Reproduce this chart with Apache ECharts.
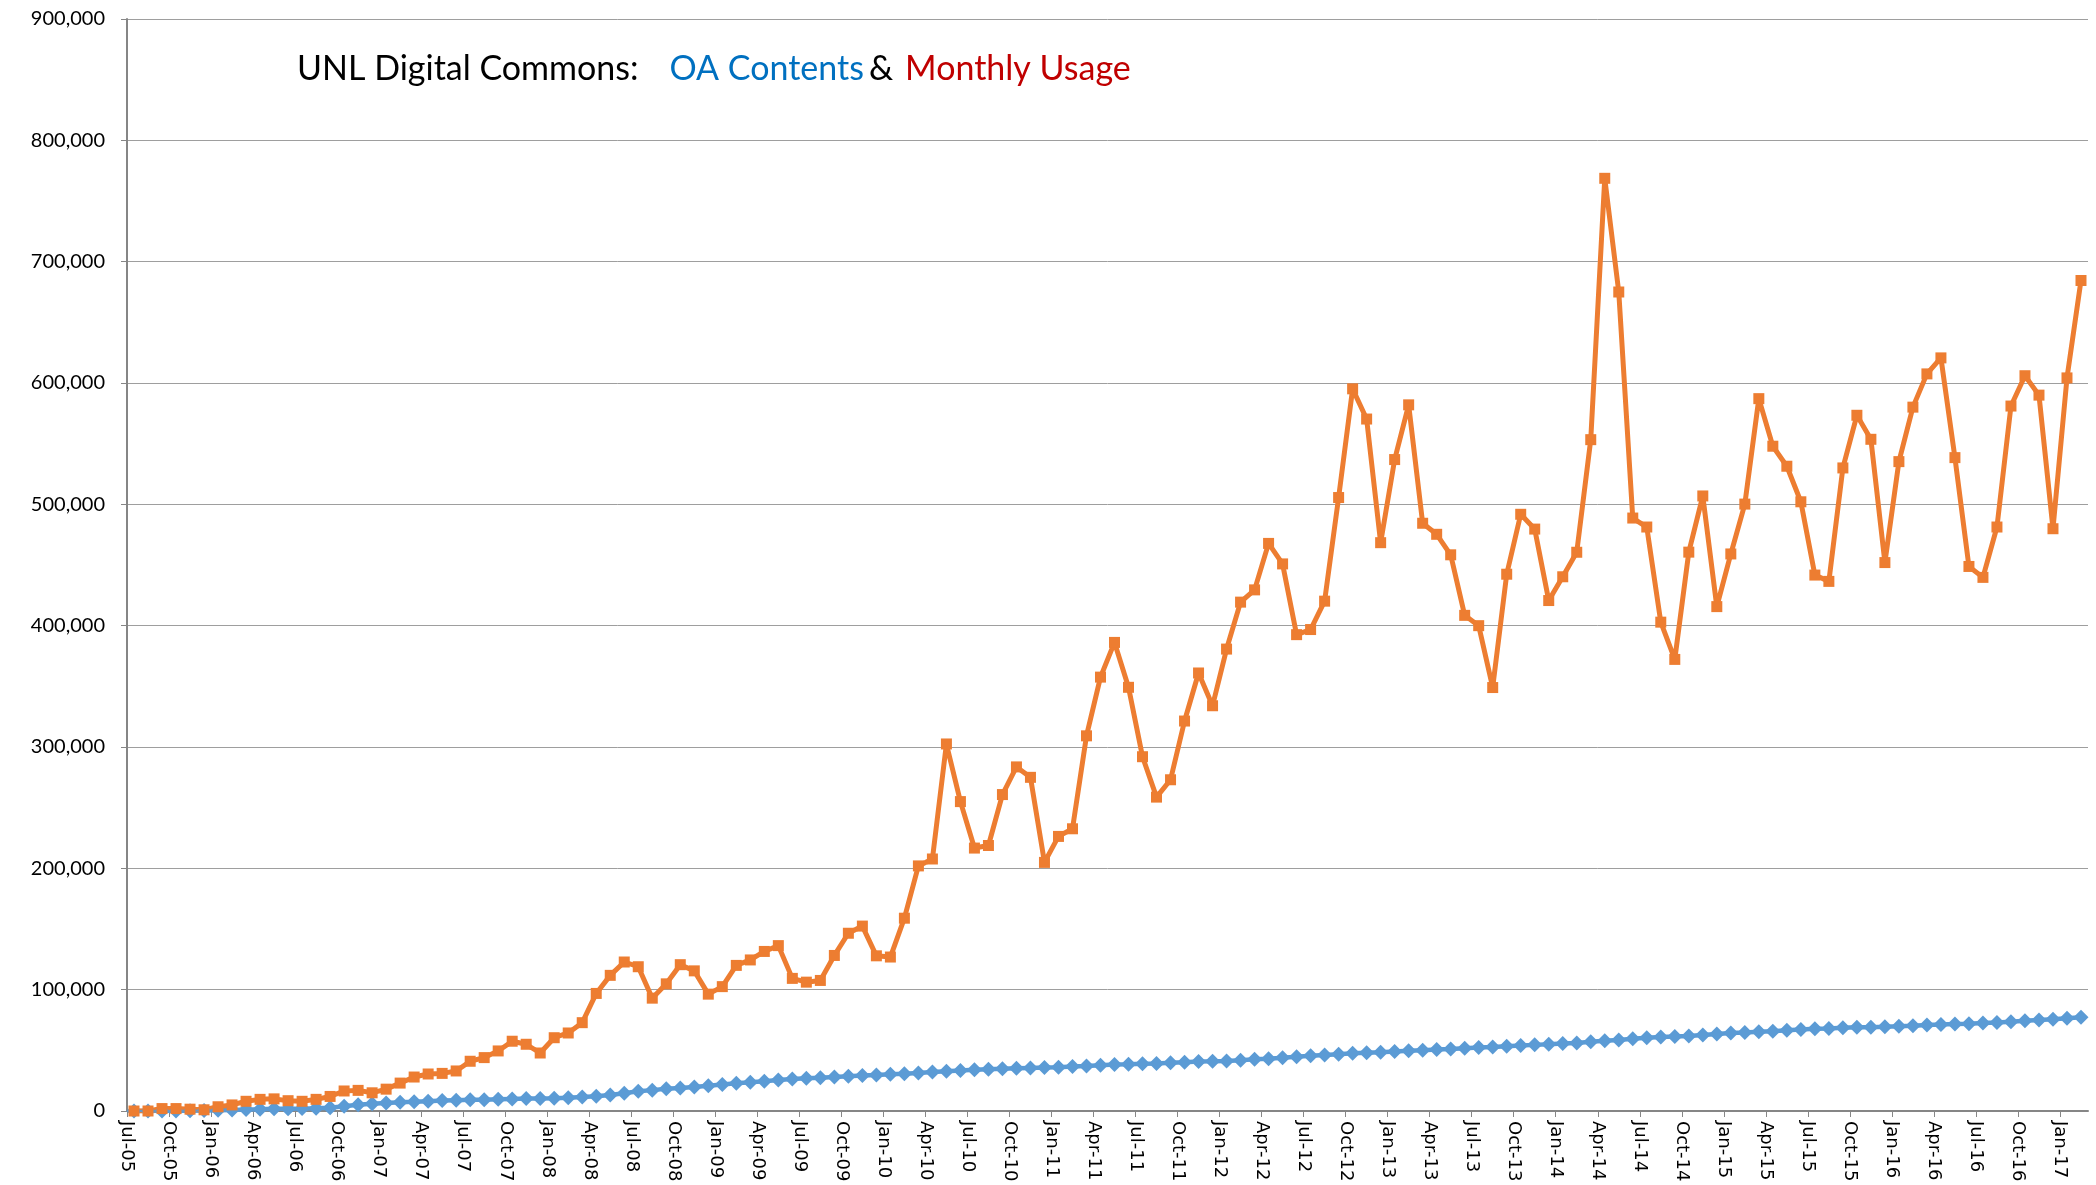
<!DOCTYPE html>
<html>
<head>
<meta charset="utf-8">
<title>UNL Digital Commons</title>
<script src="https://cdn.jsdelivr.net/npm/echarts@6/dist/echarts.min.js"></script>
<style>
	html, body { margin: 0; padding: 0; background: #fff; }
	#chart { width: 2096px; height: 1185px; }
</style>
</head>
<body>
<div id="chart"></div>
<script>
// months run Jul-05 .. Feb-17 (140 points), one extra boundary label for the axis
var monthNames = ['Jan', 'Feb', 'Mar', 'Apr', 'May', 'Jun', 'Jul', 'Aug', 'Sep', 'Oct', 'Nov', 'Dec'];
var startYear = 2005;
var startMonth = 6; // July
var monthCount = 140;

// OA contents (cumulative), blue diamonds
var oaContents = [
	0, 0, 0, 100, 200, 400, 600, 900, 1300, 1500,
	1800, 1900, 2000, 2200, 2700, 4000, 5200, 5900, 6500, 7200,
	7600, 8100, 8600, 8900, 9200, 9300, 9600, 9900, 10200, 10300,
	10500, 11000, 11500, 12100, 13200, 14600, 16300, 17200, 18300, 18900,
	19800, 20900, 21800, 22900, 23700, 24600, 25500, 26300, 26900, 27500,
	28000, 28600, 29200, 29700, 30200, 30800, 31400, 32200, 32700, 33300,
	33900, 34400, 34900, 35200, 35500, 35800, 36100, 36600, 37100, 37700,
	38300, 38500, 39000, 39200, 39700, 40100, 40700, 40900, 41300, 41900,
	42600, 43000, 43900, 44700, 45500, 46200, 46800, 47500, 48100, 48500,
	49100, 49600, 50100, 50600, 51100, 51700, 52300, 52800, 53400, 53900,
	54500, 55000, 55600, 56100, 57100, 57800, 58600, 59500, 60400, 60900,
	61500, 61900, 62700, 63500, 64300, 64700, 65300, 65800, 66600, 67200,
	67700, 68000, 68600, 69000, 69100, 69400, 69800, 70300, 70900, 71300,
	71700, 72000, 72500, 72900, 73500, 74300, 75000, 75700, 76500, 77300
];

// monthly usage, orange squares
var monthlyUsage = [
	0, 0, 2000, 2000, 1500, 1000, 3500, 5000, 8000, 9600,
	10000, 8500, 8000, 9600, 12000, 16500, 17000, 15000, 18000, 23000,
	28000, 30500, 31000, 33000, 41000, 44000, 49500, 57500, 55000, 47800,
	60400, 64300, 72800, 96900, 111800, 122800, 118900, 93000, 104800, 120600,
	115500, 96300, 102500, 120000, 124500, 131500, 136300, 109300, 106200, 107600,
	128200, 146500, 152400, 127900, 126900, 158900, 202000, 207700, 302500, 255000,
	216700, 218800, 260800, 283600, 275000, 204900, 226300, 232600, 309200, 357600,
	386200, 349200, 292000, 258700, 273000, 321400, 361000, 334000, 380700, 419400,
	429500, 467800, 450900, 392600, 396800, 420200, 505600, 595200, 570300, 468400,
	536900, 582000, 484400, 475300, 458400, 408500, 400000, 349000, 442400, 491800,
	479600, 420700, 440300, 460500, 553300, 768700, 675000, 488700, 481300, 402900,
	372200, 460600, 506900, 415700, 459100, 500200, 587100, 547900, 531400, 502100,
	441700, 436500, 530000, 573400, 553600, 452000, 535200, 580100, 607500, 620700,
	538500, 448800, 439800, 481300, 581000, 606000, 590000, 479900, 604200, 684500
];

var yMax = 900000;
var yStep = 100000;

function monthLabel(i) {
	var m = startMonth + i;
	var y = startYear + Math.floor(m / 12);
	return monthNames[m % 12] + '-' + String(y % 100).padStart(2, '0');
}

var categories = [];
var tickLabels = [];
for (var i = 0; i <= monthCount; i++) {
	if (i < monthCount) categories.push(monthLabel(i));
	tickLabels.push(monthLabel(i));
}

var myChart = echarts.init(document.getElementById('chart'), null, { renderer: 'canvas' });

var titleFont = { fontFamily: 'Lato', fontSize: 34, fontWeight: 'normal' };

var option = {
	animation: false,
	backgroundColor: '#ffffff',
	title: {
		left: 292,
		top: 47,
		text: '{a|UNL Digital Commons:}{gap|}{b|OA Contents} {a|&}{sp|}{c|Monthly Usage}',
		textStyle: {
			fontWeight: 'normal',
			rich: {
				a: Object.assign({ color: '#000000' }, titleFont),
				b: Object.assign({ color: '#0070C0' }, titleFont),
				c: Object.assign({ color: '#C00000' }, titleFont),
				gap: { width: 31 },
				sp: { width: 12 }
			}
		}
	},
	grid: {
		left: 127,
		right: 8,
		top: 19,
		bottom: 74,
		containLabel: false
	},
	xAxis: [{
		// data axis: points sit in the middle of each month slot
		type: 'category',
		data: categories,
		boundaryGap: true,
		axisLine: { show: false },
		axisTick: { show: false },
		axisLabel: { show: false },
		splitLine: { show: false }
	}, {
		// label axis: ticks and labels on slot boundaries, every 3 months
		type: 'category',
		data: tickLabels,
		boundaryGap: false,
		position: 'bottom',
		axisLine: { show: true, lineStyle: { color: '#868686', width: 2 } },
		axisTick: { show: true, interval: 2, length: 6, lineStyle: { color: '#868686', width: 1 } },
		axisLabel: {
			interval: 2,
			rotate: -90,
			margin: 10,
			padding: [0, 0, 22, 0],
			fontFamily: 'DejaVu Sans',
			fontSize: 18,
			color: '#000000'
		},
		splitLine: { show: false }
	}],
	yAxis: {
		type: 'value',
		min: 0,
		max: yMax,
		interval: yStep,
		axisLine: { show: true, lineStyle: { color: '#868686', width: 2 } },
		axisTick: { show: true, length: 6, lineStyle: { color: '#868686' } },
		axisLabel: {
			margin: 22,
			fontFamily: 'Lato',
			fontSize: 20,
			color: '#000000',
			formatter: function(v) {
				return v.toLocaleString('en-US');
			}
		},
		splitLine: { show: true, lineStyle: { color: '#9e9e9e', width: 1 } }
	},
	series: [{
		name: 'OA Contents',
		type: 'line',
		xAxisIndex: 0,
		data: oaContents,
		symbol: 'diamond',
		symbolSize: [15, 15],
		showAllSymbol: true,
		itemStyle: { color: '#5B9BD5' },
		lineStyle: { color: '#5B9BD5', width: 4.5 }
	}, {
		name: 'Monthly Usage',
		type: 'line',
		xAxisIndex: 0,
		data: monthlyUsage,
		symbol: 'rect',
		symbolSize: 11,
		showAllSymbol: true,
		itemStyle: { color: '#ED7D31' },
		lineStyle: { color: '#ED7D31', width: 5 }
	}]
};

myChart.setOption(option);
</script>
</body>
</html>
